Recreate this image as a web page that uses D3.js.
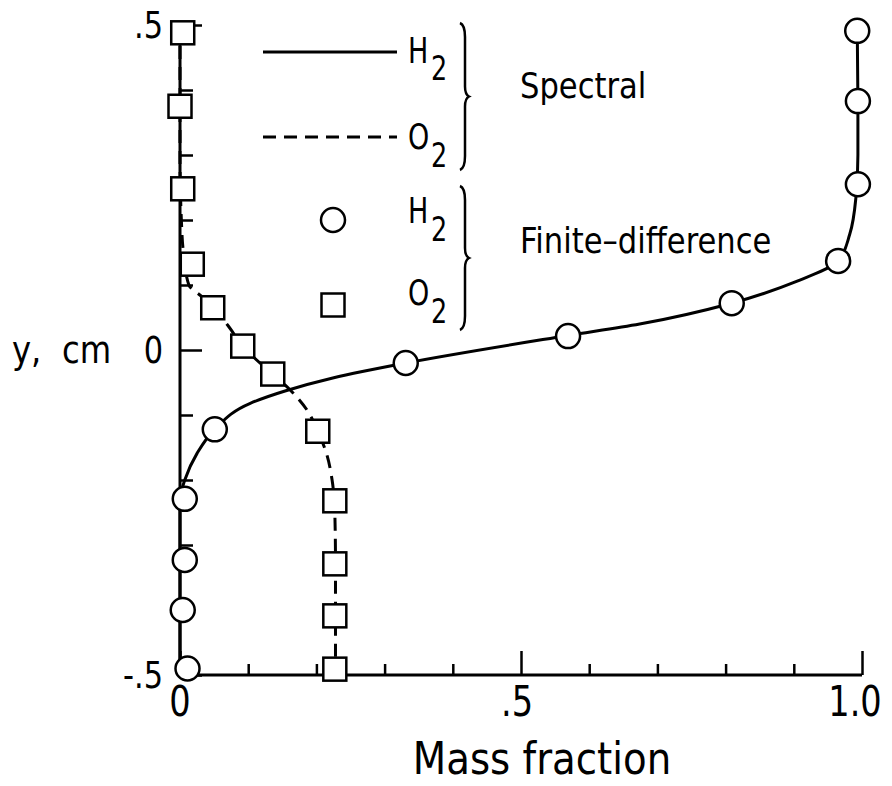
<!DOCTYPE html>
<html>
<head>
<meta charset="utf-8">
<script src="https://cdn.jsdelivr.net/npm/d3@7"></script>
<style>
  html, body { margin: 0; padding: 0; background: #fff; }
  svg text { font-family: "DejaVu Sans", sans-serif; fill: #000; }
</style>
</head>
<body>
<svg id="chart" width="892" height="786"></svg>
<script>
// ---- data (mass fraction x, y in cm) ----
const h2SpectralX = [0.993, 0.994, 0.994, 0.991, 0.982, 0.965, 0.905, 0.809, 0.674, 0.567, 0.331, 0.224, 0.154, 0.103, 0.051, 0.025, 0.007, 0.0, 0.0];
const h2SpectralY = [0.5, 0.383, 0.3, 0.234, 0.178, 0.137, 0.106, 0.072, 0.040, 0.022, -0.02, -0.043, -0.063, -0.082, -0.122, -0.159, -0.2, -0.23, -0.5];

const o2SpectralX = [0.0, 0.0, 0.002, 0.005, 0.013, 0.032, 0.048, 0.07, 0.092, 0.112, 0.136, 0.162, 0.186, 0.202, 0.215, 0.223, 0.227, 0.228, 0.228];
const o2SpectralY = [0.5, 0.3, 0.2, 0.15, 0.1, 0.082, 0.065, 0.038, 0.006, -0.015, -0.037, -0.062, -0.092, -0.125, -0.16, -0.2, -0.25, -0.33, -0.5];

const h2FiniteX = [0.993, 0.994, 0.994, 0.965, 0.809, 0.569, 0.331, 0.051, 0.007, 0.007, 0.004, 0.011];
const h2FiniteY = [0.491, 0.383, 0.255, 0.137, 0.072, 0.0215, -0.02, -0.122, -0.229, -0.323, -0.40, -0.49];

const o2FiniteX = [0.004, 0.0, 0.004, 0.018, 0.048, 0.092, 0.136, 0.202, 0.227, 0.227, 0.227, 0.227];
const o2FiniteY = [0.488, 0.375, 0.248, 0.132, 0.065, 0.006, -0.037, -0.125, -0.232, -0.329, -0.409, -0.491];

const xTickValues = [0, 0.1, 0.2, 0.3, 0.4, 0.5, 0.6, 0.7, 0.8, 0.9, 1.0];
const xTickLabels = {0: "0", 0.5: ".5", 1: "1.0"};
const yTickValues = [-0.5, -0.4, -0.3, -0.2, -0.1, 0, 0.1, 0.2, 0.3, 0.4, 0.5];
const yTickLabels = {"-0.5": "-.5", "0": "0", "0.5": ".5"};

const xTitle = "Mass fraction";
const yTitle = "y,  cm";
const groupLabels = ["Spectral", "Finite\u2013difference"];

// ---- layout ----
const svg = d3.select("#chart");
const x = d3.scaleLinear().domain([0, 1]).range([180, 862]);
const y = d3.scaleLinear().domain([-0.5, 0.5]).range([675, 25]);
const ink = "#000";

// condensed text helper
function ctext(parent, tx, ty, str, size, sx, anchor) {
  return parent.append("text")
    .attr("transform", `translate(${tx},${ty}) scale(${sx},1)`)
    .attr("font-size", size)
    .attr("text-anchor", anchor || "start")
    .style("white-space", "pre")
    .text(str);
}

// axes
const isMajor = v => Math.abs(v) < 1e-9 || Math.abs(Math.abs(v) - 0.5) < 1e-9 || Math.abs(v - 1) < 1e-9;

const xAxisG = svg.append("g").attr("transform", `translate(0,${y(-0.5)})`)
  .call(d3.axisBottom(x).tickValues(xTickValues).tickSize(0).tickFormat(""));
xAxisG.select(".domain").attr("stroke", ink).attr("stroke-width", 3).attr("d", `M${x(0)},0H${x(1)}`);
xAxisG.selectAll(".tick line")
  .attr("stroke", ink).attr("stroke-width", 2.5)
  .attr("y1", 0).attr("y2", d => isMajor(d) ? -24 : -11);

const yAxisG = svg.append("g").attr("transform", `translate(${x(0)},0)`)
  .call(d3.axisLeft(y).tickValues(yTickValues).tickSize(0).tickFormat(""));
yAxisG.select(".domain").attr("stroke", ink).attr("stroke-width", 3).attr("d", `M0,${y(0.5)}V${y(-0.5)}`);
yAxisG.selectAll(".tick line")
  .attr("stroke", ink).attr("stroke-width", 2.5)
  .attr("x1", 0).attr("x2", d => isMajor(d) ? 22 : 13);

// tick labels
xTickValues.filter(v => xTickLabels[v] !== undefined).forEach(v => {
  const dx = v === 1 ? -7 : (v === 0.5 ? -4 : 0);
  ctext(svg, x(v) + dx, 716, xTickLabels[v], 42, 0.8, "middle");
});
yTickValues.filter(v => yTickLabels[String(v)] !== undefined).forEach(v => {
  ctext(svg, 163, y(v) + 13, yTickLabels[String(v)], 38, 0.8, "end");
});

ctext(svg, 12, 363, yTitle, 38, 0.85, "start");
ctext(svg, 542, 774, xTitle, 44, 0.88, "middle");

// spectral curves
const zip = (xs, ys) => xs.map((v, i) => [v, ys[i]]);
const line = d3.line().x(d => x(d[0])).y(d => y(d[1])).curve(d3.curveMonotoneY);

svg.append("path").datum(zip(h2SpectralX, h2SpectralY))
  .attr("d", line).attr("fill", "none").attr("stroke", ink).attr("stroke-width", 3);
svg.append("path").datum(zip(o2SpectralX, o2SpectralY))
  .attr("d", line).attr("fill", "none").attr("stroke", ink).attr("stroke-width", 3)
  .attr("stroke-dasharray", "13,8");

// finite-difference markers
const sq = 23, rad = 12;
svg.selectAll(".o2pt").data(zip(o2FiniteX, o2FiniteY)).enter().append("rect")
  .attr("x", d => x(d[0]) - sq / 2).attr("y", d => y(d[1]) - sq / 2)
  .attr("width", sq).attr("height", sq)
  .attr("fill", "#fff").attr("stroke", ink).attr("stroke-width", 2.5);
svg.selectAll(".h2pt").data(zip(h2FiniteX, h2FiniteY)).enter().append("circle")
  .attr("cx", d => x(d[0])).attr("cy", d => y(d[1])).attr("r", rad)
  .attr("fill", "#fff").attr("stroke", ink).attr("stroke-width", 2.5);

// legend
const lg = svg.append("g");
function species(xp, base, subBase, main) {
  ctext(lg, xp, base, main, 36, 0.75, "start");
  ctext(lg, xp + 23, subBase, "2", 34, 0.75, "start");
}
lg.append("line").attr("x1", 263).attr("x2", 397).attr("y1", 52).attr("y2", 52)
  .attr("stroke", ink).attr("stroke-width", 3);
species(408, 63, 80, "H");
lg.append("line").attr("x1", 263).attr("x2", 397).attr("y1", 137).attr("y2", 137)
  .attr("stroke", ink).attr("stroke-width", 3).attr("stroke-dasharray", "13,8");
species(408, 149, 167, "O");
lg.append("circle").attr("cx", 333).attr("cy", 220).attr("r", rad)
  .attr("fill", "#fff").attr("stroke", ink).attr("stroke-width", 2.5);
species(408, 223, 241, "H");
lg.append("rect").attr("x", 333 - sq / 2).attr("y", 305 - sq / 2).attr("width", sq).attr("height", sq)
  .attr("fill", "#fff").attr("stroke", ink).attr("stroke-width", 2.5);
species(408, 305, 323, "O");

function brace(bx, y0, y1) {
  const ym = (y0 + y1) / 2;
  const p = `M${bx},${y0} Q${bx + 5},${y0 + 2} ${bx + 5},${y0 + 14} L${bx + 5},${ym - 10} Q${bx + 5},${ym - 2} ${bx + 9},${ym} Q${bx + 5},${ym + 2} ${bx + 5},${ym + 10} L${bx + 5},${y1 - 14} Q${bx + 5},${y1 - 2} ${bx},${y1}`;
  lg.append("path").attr("d", p).attr("fill", "none").attr("stroke", ink).attr("stroke-width", 2.5);
}
brace(460, 23, 170);
brace(460, 186, 330);

ctext(lg, 520, 98, groupLabels[0], 36, 0.85, "start");
ctext(lg, 520, 253, groupLabels[1], 36, 0.85, "start");
</script>
</body>
</html>
